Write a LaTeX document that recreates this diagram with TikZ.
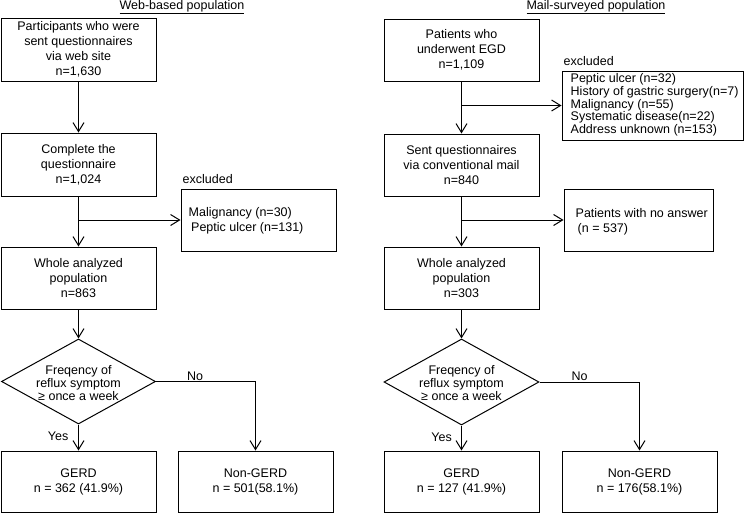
\documentclass[tikz,border=0pt]{standalone}
\usepackage{fontspec}
\setmainfont{Liberation Sans}
\usetikzlibrary{arrows.meta,shapes.geometric}
\begin{document}
\begin{tikzpicture}[x=1pt,y=-1pt,
  every node/.style={font=\fontsize{12.5}{15}\selectfont},
  box/.style={draw, line width=1pt, minimum width=155pt, minimum height=62pt, inner sep=0pt, align=center},
  dia/.style={draw, diamond, line width=1pt, minimum width=154pt, minimum height=85pt, inner sep=0pt},
  listtxt/.style={inner sep=0pt, align=left},
  tighttxt/.style={inner sep=0pt, align=center, font=\fontsize{12.5}{13}\selectfont},
  lbl/.style={inner sep=0pt},
  arr/.style={line width=1pt, -{Straight Barb[length=9pt,width=11pt,line width=1pt]}},
]
\useasboundingbox (0,0) rectangle (756,514);

% ---------------- Left: web-based ----------------
\node[lbl, anchor=base] (t1) at (182,9.5) {\underline{Web-based population}};
\node[box, minimum height=63pt] (b1) at (78.5,49.5) {Participants who were\\sent questionnaires\\via web site\\n=1,630};
\node[box, minimum height=63pt] (b2) at (78.5,164.5) {Complete the\\questionnaire\\n=1,024};
\node[box] (ex1) at (258.5,220) {};
\node[listtxt, anchor=west] (ex1t) at ([xshift=8pt,yshift=-1pt]ex1.west) {Malignancy (n=30)\\\hspace*{2.5pt}Peptic ulcer (n=131)};
\node[lbl, anchor=base west] (exl1) at ([xshift=2pt,yshift=5pt]ex1.north west) {excluded};
\node[box] (b3) at (78.5,278) {Whole analyzed\\population\\n=863};
\node[dia] (d1) at (78.5,381.5) {};
\node[tighttxt] (d1t) at (78.5,383) {Freqency of\\reflux symptom\\≥ once a week};
\node[box, minimum height=61pt] (g1) at (78.5,481.5) {GERD\\n = 362 (41.9\%)};
\node[box, minimum height=61pt] (ng1) at (255.5,481.5) {Non-GERD\\n = 501(58.1\%)};
\coordinate (jl1) at (78.5,220);

\draw[arr] (b1) -- (b2);
\draw[arr] (b2) -- (b3);
\draw[arr] (jl1) -- (ex1);
\draw[arr] (b3) -- (d1);
\draw[arr] (d1.south) -- (g1);
\draw[arr] (d1.east) -| (ng1.north);
\node[lbl, anchor=base west] (no1) at ([xshift=31pt,yshift=1.5pt]d1.east) {No};
\node[lbl, anchor=base east] (yes1) at ([xshift=-10pt,yshift=-16pt]d1.south) {Yes};

% ---------------- Right: mail-surveyed ----------------
\node[lbl, anchor=base] (t2) at (596,9.5) {\underline{Mail-surveyed population}};
\node[box] (r1) at (461.5,50) {Patients who\\underwent EGD\\n=1,109};
\node[box, minimum width=181pt, minimum height=69pt] (rex1) at (652.5,105.5) {};
\node[listtxt, anchor=west, font=\fontsize{12.5}{12.7}\selectfont] (rex1t) at ([xshift=9pt,yshift=0.5pt]rex1.west) {Peptic ulcer (n=32)\\History of gastric surgery(n=7)\\Malignancy (n=55)\\Systematic disease(n=22)\\Address unknown (n=153)};
\node[lbl, anchor=base west] (exl2) at ([xshift=2pt,yshift=5pt]rex1.north west) {excluded};
\node[box] (r2) at (461.5,165) {Sent questionnaires\\via conventional mail\\n=840};
\node[box, minimum width=149pt] (rna) at (638.5,220) {};
\node[listtxt, anchor=west] (rnat) at ([xshift=12pt,yshift=-2pt]rna.west) {Patients with no answer\\\hspace*{2pt}(n = 537)};
\node[box] (r3) at (461.5,278) {Whole analyzed\\population\\n=303};
\node[dia, minimum width=155pt, minimum height=86pt] (d2) at (461.5,382) {};
\node[tighttxt] (d2t) at (461.5,383.5) {Freqency of\\reflux symptom\\≥ once a week};
\node[box, minimum height=61pt] (g2) at (461.5,481.5) {GERD\\n = 127 (41.9\%)};
\node[box, minimum height=61pt] (ng2) at (639.5,481.5) {Non-GERD\\n = 176(58.1\%)};
\coordinate (jr1) at (461.5,105.5);
\coordinate (jr2) at (461.5,220);

\draw[arr] (r1) -- (r2);
\draw[arr] (jr1) -- (rex1);
\draw[arr] (r2) -- (r3);
\draw[arr] (jr2) -- (rna);
\draw[arr] (r3) -- (d2);
\draw[arr] (d2.south) -- (g2);
\draw[arr] (d2.east) -| (ng2.north);
\node[lbl, anchor=base west] (no2) at ([xshift=32pt,yshift=1.5pt]d2.east) {No};
\node[lbl, anchor=base east] (yes2) at ([xshift=-9.5pt,yshift=-16pt]d2.south) {Yes};
\end{tikzpicture}
\end{document}
